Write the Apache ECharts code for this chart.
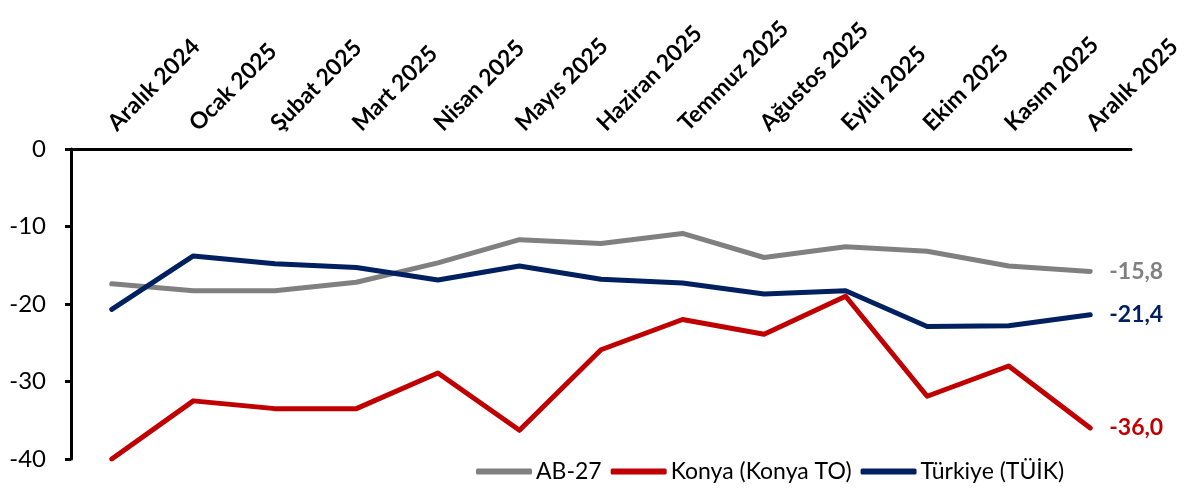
<!DOCTYPE html>
<html>
<head>
<meta charset="utf-8">
<script src="https://cdn.jsdelivr.net/npm/echarts@6/dist/echarts.min.js"></script>
<style>
  html, body { margin: 0; padding: 0; background: #fff; }
  #chart { width: 1189px; height: 492px; }
</style>
</head>
<body>
<div id="chart"></div>
<script>
// aylar
const months = ['Aralık 2024', 'Ocak 2025', 'Şubat 2025', 'Mart 2025', 'Nisan 2025', 'Mayıs 2025',
  'Haziran 2025', 'Temmuz 2025', 'Ağustos 2025', 'Eylül 2025', 'Ekim 2025', 'Kasım 2025', 'Aralık 2025'];

// seriler
const ab27 = [-17.4, -18.3, -18.3, -17.2, -14.7, -11.7, -12.2, -10.9, -14.0, -12.6, -13.2, -15.1, -15.8];
const konya = [-40.0, -32.5, -33.5, -33.5, -28.9, -36.3, -25.9, -22.0, -23.9, -19.0, -31.9, -28.0, -36.0];
const turkiye = [-20.7, -13.8, -14.8, -15.3, -16.9, -15.1, -16.8, -17.3, -18.7, -18.3, -22.9, -22.8, -21.4];

const seriesNames = ['AB-27', 'Konya (Konya TO)', 'Türkiye (TÜİK)'];
const colors = ['#808080', '#C00000', '#002060'];

const chart = echarts.init(document.getElementById('chart'));

const fontFam = 'Lato, sans-serif';

const makeSeries = (name, data, color) => ({
  name: name,
  type: 'line',
  data: data,
  showSymbol: false,
  symbol: 'none',
  lineStyle: { width: 5, color: color, cap: 'round', join: 'round' },
  itemStyle: { color: color },
  endLabel: {
    show: true,
    distance: 19,
    color: color,
    fontFamily: fontFam,
    fontWeight: 'bold',
    fontSize: 23,
    formatter: (p) => p.value.toFixed(1).replace('.', ',')
  }
});

chart.setOption({
  backgroundColor: '#ffffff',
  animation: false,
  grid: { left: 71, right: 58, top: 149, bottom: 33 },
  legend: {
    data: seriesNames,
    left: 471,
    top: 455,
    icon: 'roundRect',
    itemWidth: 56,
    itemHeight: 6,
    itemGap: 9,
    textStyle: { fontFamily: fontFam, fontSize: 23, color: '#000', padding: [0, 0, 0, -1] }
  },
  xAxis: {
    type: 'category',
    position: 'top',
    data: months,
    boundaryGap: true,
    axisLine: { lineStyle: { color: '#000', width: 3 } },
    axisTick: { inside: true, length: 7, lineStyle: { color: '#000', width: 3 } },
    axisLabel: {
      rotate: 45,
      margin: 22,
      interval: 0,
      color: '#000',
      fontFamily: fontFam,
      fontWeight: 'bold',
      fontSize: 23
    }
  },
  yAxis: {
    type: 'value',
    min: -40,
    max: 0,
    interval: 10,
    axisLine: { show: true, lineStyle: { color: '#000', width: 3 } },
    axisTick: { show: true, length: 6, lineStyle: { color: '#000', width: 3 } },
    splitLine: { show: false },
    axisLabel: { margin: 25, color: '#000', fontFamily: fontFam, fontSize: 24 }
  },
  series: [
    makeSeries(seriesNames[0], ab27, colors[0]),
    makeSeries(seriesNames[1], konya, colors[1]),
    makeSeries(seriesNames[2], turkiye, colors[2])
  ]
});
</script>
</body>
</html>
